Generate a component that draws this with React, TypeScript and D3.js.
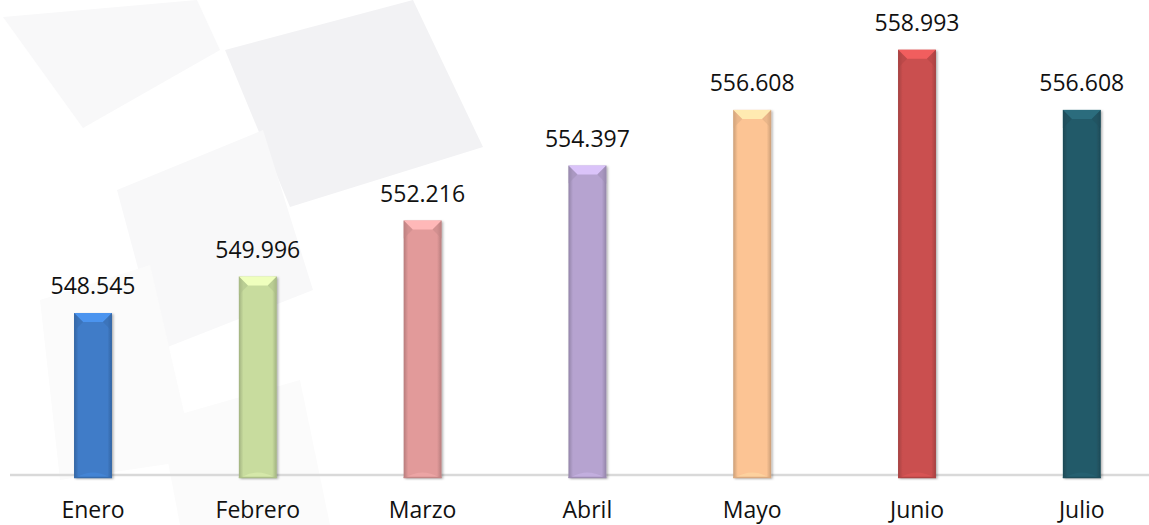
import React from "react";
import * as d3 from "d3";

const categories = ["Enero", "Febrero", "Marzo", "Abril", "Mayo", "Junio", "Julio"];
const values = [548.545, 549.996, 552.216, 554.397, 556.608, 558.993, 556.608];
const valueLabels = ["548.545", "549.996", "552.216", "554.397", "556.608", "558.993", "556.608"];
const barColors = ["#3f7cc8", "#c8dc9e", "#e29a9a", "#b6a3d0", "#fcc494", "#ca4f4f", "#245a69"];

const W = 1149;
const H = 525;

export default function App() {
  const x = d3
    .scaleBand<string>()
    .domain(categories)
    .range([10.6, 10.6 + 164.8 * 7])
    .paddingInner(0.77)
    .paddingOuter(0.385);
  const y = d3.scaleLinear().domain([542, 560]).range([478, 24.4]);
  const bw = x.bandwidth();
  const bev = 9;
  const font = "'Open Sans', 'Noto Sans', sans-serif";

  const bg = [
    { pts: [[3, 17], [197, 0], [220, 50], [83, 128]], fill: "#f8f8f9" },
    { pts: [[225, 50], [413, 0], [483, 147], [290, 207]], fill: "#f2f2f4" },
    { pts: [[117, 190], [263, 130], [313, 290], [160, 350]], fill: "#f8f8f9" },
    { pts: [[40, 300], [150, 265], [195, 460], [60, 480]], fill: "#fbfbfb" },
    { pts: [[160, 420], [300, 380], [330, 525], [180, 525]], fill: "#fbfbfb" },
  ];

  return (
    <svg width={W} height={H} style={{ position: "absolute", left: 0, top: 0, background: "#fff" }}>
      <defs>
        {barColors.map((c, i) => {
          const dk = d3.color(c)!.darker(0.6).formatHex();
          return (
            <linearGradient key={i} id={`g${i}`} x1="0" x2="1" y1="0" y2="0">
              <stop offset="0%" stopColor={dk} />
              <stop offset="12%" stopColor={c} />
              <stop offset="88%" stopColor={c} />
              <stop offset="100%" stopColor={dk} />
            </linearGradient>
          );
        })}
        <filter id="sh" x="-20%" y="-5%" width="140%" height="110%">
          <feDropShadow dx="1.5" dy="1" stdDeviation="1.2" floodColor="#000" floodOpacity="0.3" />
        </filter>
      </defs>
      {bg.map((s, i) => (
        <path key={i} d={d3.line()(s.pts as [number, number][])! + "Z"} fill={s.fill} />
      ))}
      <line x1={10} x2={W} y1={475} y2={475} stroke="#d9d9d9" strokeWidth={2.5} />
      {categories.map((cat, i) => {
        const x0 = x(cat)!;
        const x1 = x0 + bw;
        const y0 = y(values[i]);
        const y1 = y(542);
        const c = barColors[i];
        const light = d3.color(c)!.brighter(0.5).formatHex();
        const dark = d3.color(c)!.darker(0.4).formatHex();
        return (
          <g key={cat}>
            <rect x={x0} y={y0} width={bw} height={y1 - y0} fill={`url(#g${i})`} filter="url(#sh)" />
            <path d={`M${x0},${y0}L${x1},${y0}L${x1 - bev},${y0 + bev}L${x0 + bev},${y0 + bev}Z`} fill={light} />
            <path d={`M${x0},${y0}L${x0 + bev},${y0 + bev}L${x0},${y0 + bev * 2}Z`} fill={dark} opacity={0.5} />
            <path d={`M${x1},${y0}L${x1 - bev},${y0 + bev}L${x1},${y0 + bev * 2}Z`} fill={dark} opacity={0.5} />
            <path d={`M${x0 + 3},${y1 - 1}Q${(x0 + x1) / 2},${y1 - 10} ${x1 - 3},${y1 - 1}Z`} fill={light} opacity={0.35} />
            <line x1={x0} x2={x1} y1={y1 - 0.5} y2={y1 - 0.5} stroke={dark} strokeWidth={1.5} />
            <text x={(x0 + x1) / 2} y={y0 - 19} textAnchor="middle" fontFamily={font} fontSize={23} fill="#111">
              {valueLabels[i]}
            </text>
            <text x={(x0 + x1) / 2} y={518} textAnchor="middle" fontFamily={font} fontSize={23} fill="#111">
              {cat}
            </text>
          </g>
        );
      })}
    </svg>
  );
}
